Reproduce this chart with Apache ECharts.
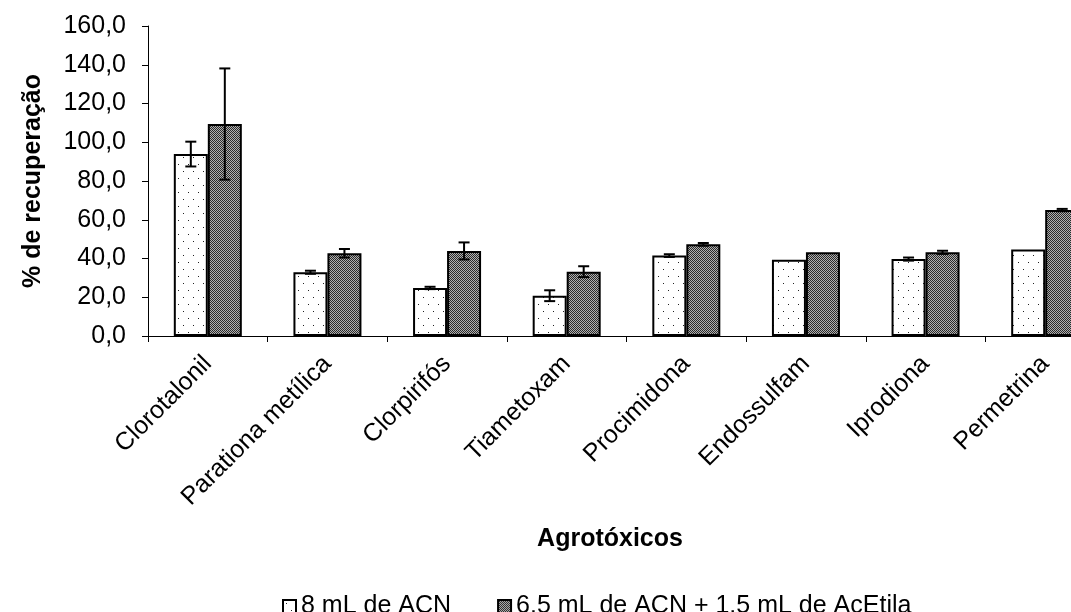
<!DOCTYPE html>
<html>
<head>
<meta charset="utf-8">
<script src="https://cdn.jsdelivr.net/npm/echarts@6/dist/echarts.min.js"></script>
<style>
html,body{margin:0;padding:0;background:#fff;overflow:hidden;width:1071px;height:612px;}
#chart{width:1105px;height:612px;}
</style>
</head>
<body>
<div id="chart"></div>
<script>
var categories = ['Clorotalonil', 'Parationa metílica', 'Clorpirifós', 'Tiametoxam', 'Procimidona', 'Endossulfam', 'Iprodiona', 'Permetrina'];
var seriesNames = ['8 mL de ACN', '6.5 mL de ACN + 1.5 mL de AcEtila'];
var acnValues = [93.9, 32.9, 24.8, 20.8, 41.5, 39.4, 39.7, 44.7];
var acnErrors = [6.4, 0.8, 0.6, 2.8, 0.7, 0, 0.8, 0];
var mixValues = [109.4, 42.7, 43.9, 33.2, 47.3, 43.2, 43.2, 65.0];
var mixErrors = [28.7, 2.2, 4.4, 2.8, 0.7, 0, 0.8, 0.6];
var yTicks = [0, 20, 40, 60, 80, 100, 120, 140, 160];

var FONT = "'Liberation Sans', Arial, sans-serif";
var BAR_W = 34;

function makeDots() {
  var c = document.createElement('canvas');
  c.width = 10; c.height = 14;
  var ctx = c.getContext('2d');
  ctx.fillStyle = '#ffffff'; ctx.fillRect(0, 0, 10, 14);
  ctx.fillStyle = '#222222';
  ctx.fillRect(3, 3, 1, 1);
  ctx.fillRect(8, 10, 1, 1);
  return c;
}
function makeChecker() {
  var c = document.createElement('canvas');
  c.width = 2; c.height = 2;
  var ctx = c.getContext('2d');
  ctx.fillStyle = '#b0b0b0'; ctx.fillRect(0, 0, 2, 2);
  ctx.fillStyle = '#2a2a2a';
  ctx.fillRect(0, 0, 1, 1);
  ctx.fillRect(1, 1, 1, 1);
  return c;
}
var dotPattern = { image: makeDots(), repeat: 'repeat' };
var checkerPattern = { image: makeChecker(), repeat: 'repeat' };

function errData(vals, errs) {
  var out = [];
  for (var i = 0; i < vals.length; i++) out.push([i, vals[i], errs[i]]);
  return out;
}
function errRender(offset) {
  return function (params, api) {
    var idx = api.value(0), v = api.value(1), e = api.value(2);
    if (!e) return null;
    var top = api.coord([idx, v + e]);
    var bot = api.coord([idx, v - e]);
    var x = top[0] + offset;
    var cap = 5.5;
    var st = { stroke: '#000', lineWidth: 2 };
    return {
      type: 'group',
      children: [
        { type: 'line', shape: { x1: x, y1: top[1], x2: x, y2: bot[1] }, style: st },
        { type: 'line', shape: { x1: x - cap, y1: top[1], x2: x + cap, y2: top[1] }, style: st },
        { type: 'line', shape: { x1: x - cap, y1: bot[1], x2: x + cap, y2: bot[1] }, style: st }
      ]
    };
  };
}

var chart = echarts.init(document.getElementById('chart'), null, { renderer: 'canvas', width: 1105, height: 612 });
chart.setOption({
  animation: false,
  backgroundColor: '#ffffff',
  textStyle: { fontFamily: FONT },
  title: {
    text: 'Agrotóxicos',
    left: 605,
    textAlign: 'center',
    top: 522,
    textStyle: { fontFamily: FONT, fontSize: 25, fontWeight: 'bold', color: '#000' }
  },
  legend: {
    data: seriesNames,
    left: 277,
    top: 589,
    itemWidth: 13,
    itemHeight: 13,
    itemGap: 46,
    icon: 'rect',
    textStyle: { fontFamily: FONT, fontSize: 25, color: '#000' }
  },
  grid: { left: 148, right: 0, top: 26, bottom: 276, containLabel: false },
  xAxis: {
    type: 'category',
    data: categories,
    axisLine: { show: true, lineStyle: { color: '#000', width: 1 } },
    axisTick: { show: true, length: 6, lineStyle: { color: '#000' } },
    axisLabel: { rotate: 45, margin: 24, fontFamily: FONT, fontSize: 25, color: '#000', interval: 0 },
    splitLine: { show: false }
  },
  yAxis: {
    type: 'value',
    min: yTicks[0],
    max: yTicks[yTicks.length - 1],
    interval: 20,
    name: '% de recuperação',
    nameLocation: 'middle',
    nameRotate: 90,
    nameGap: 102,
    nameTextStyle: { fontFamily: FONT, fontSize: 25, fontWeight: 'bold', color: '#000' },
    axisLine: { show: true, lineStyle: { color: '#000', width: 1 } },
    axisTick: { show: true, length: 6, lineStyle: { color: '#000' } },
    axisLabel: {
      margin: 22, fontFamily: FONT, fontSize: 25, color: '#000',
      formatter: function (v) { return v.toFixed(1).replace('.', ','); }
    },
    splitLine: { show: false }
  },
  series: [
    {
      name: seriesNames[0], type: 'bar', data: acnValues, barWidth: BAR_W, barGap: '0%',
      itemStyle: { color: dotPattern, borderColor: '#000', borderWidth: 2 }
    },
    {
      name: seriesNames[1], type: 'bar', data: mixValues, barWidth: BAR_W, barGap: '0%',
      itemStyle: { color: checkerPattern, borderColor: '#000', borderWidth: 2 }
    },
    {
      type: 'custom', name: 'errA', data: errData(acnValues, acnErrors),
      renderItem: errRender(-BAR_W / 2), z: 5, silent: true
    },
    {
      type: 'custom', name: 'errB', data: errData(mixValues, mixErrors),
      renderItem: errRender(BAR_W / 2), z: 5, silent: true
    }
  ]
});
</script>
</body>
</html>
